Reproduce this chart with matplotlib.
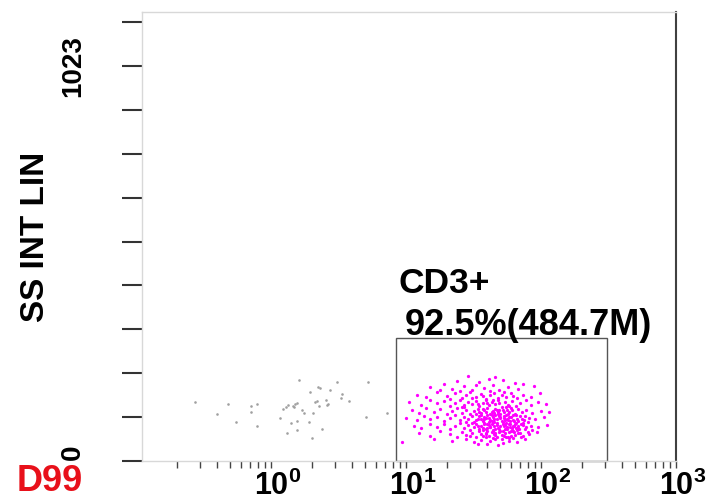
import numpy as np
import matplotlib
matplotlib.use('Agg')
import matplotlib.pyplot as plt
from matplotlib.patches import Rectangle
from matplotlib.transforms import ScaledTranslation

plt.rcParams['font.family'] = ['Liberation Sans', 'DejaVu Sans']
plt.rcParams['mathtext.fontset'] = 'custom'
plt.rcParams['mathtext.rm'] = 'Liberation Sans:bold'
plt.rcParams['mathtext.bf'] = 'Liberation Sans:bold'
plt.rcParams['mathtext.default'] = 'bf'

# ungated events (CD3 fluorescence, side scatter)
neg_events = [
    (0.274, 152), (0.400, 121), (0.483, 147), (0.551, 102), (0.708, 142),
    (0.708, 128), (0.792, 147), (0.792, 92), (1.166, 111), (1.221, 134),
    (1.291, 139), (1.343, 146), (1.406, 98), (1.448, 142), (1.514, 148),
    (1.566, 151), (1.621, 210), (1.550, 104), (1.307, 73), (1.550, 80),
    (1.687, 132), (1.754, 124), (1.944, 178), (1.922, 100), (2.036, 125),
    (2.002, 60), (2.117, 152), (2.180, 155), (2.240, 192), (2.280, 142),
    (2.400, 82), (2.550, 158), (2.630, 148), (2.740, 184), (3.070, 205),
    (3.280, 162), (3.370, 173), (3.800, 155), (5.050, 115), (5.260, 205),
    (7.190, 124), (2.300, 190), (1.480, 140), (2.600, 146),
]

# CD3+ gated events
cd3_events = [
    (29, 221), (41, 212), (24, 206), (35, 204), (52, 209), (19, 199), (64, 201), (46, 218),
    (15, 192), (22, 186), (27, 195), (31, 183), (38, 190), (44, 197), (49, 184), (57, 192),
    (68, 187), (88, 195), (33, 196), (25, 181), (42, 182), (73, 199), (18, 184),
    (12, 172), (14, 165), (17, 178), (20, 169), (23, 175), (26, 163), (28, 171), (30, 178),
    (33, 166), (36, 174), (39, 161), (42, 170), (45, 177), (48, 164), (51, 172), (55, 167),
    (60, 175), (66, 162), (74, 170), (85, 166), (98, 176), (21, 161), (31, 163), (37, 168),
    (53, 179), (62, 168),
    (10.5, 152), (13, 146), (15, 157), (17, 149), (19, 155), (21, 143), (23, 151), (25, 158),
    (27, 145), (29, 153), (31, 147), (33, 156), (35, 142), (37, 150), (39, 157), (41, 144),
    (43, 152), (46, 147), (48, 158), (51, 141), (54, 153), (57, 146), (61, 155), (65, 143),
    (70, 150), (77, 157), (84, 145), (95, 152), (108, 148), (26, 141), (34, 148), (44, 159),
    (58, 142), (40, 150), (49, 149),
    (11, 131), (12.5, 124), (14, 137), (16, 128), (18, 134), (20, 122), (22, 130), (24, 138),
    (26, 125), (28, 133), (30, 121), (32, 129), (34, 136), (36, 124), (38, 131), (40, 138),
    (42, 123), (44, 130), (46, 135), (48, 127), (50, 121), (52, 133), (55, 139), (58, 126),
    (61, 132), (64, 122), (68, 136), (72, 128), (78, 133), (86, 124), (100, 130), (115, 126),
    (27, 139), (33, 122), (39, 126), (45, 125), (53, 128), (60, 137), (37, 134), (43, 128),
    (49, 133), (56, 131),
    (10, 112), (12, 106), (13.5, 117), (15, 109), (17, 114), (19, 103), (21, 111), (23, 118),
    (25, 105), (27, 113), (29, 108), (31, 116), (32, 102), (34, 110), (35, 117), (37, 104),
    (39, 112), (40, 119), (42, 107), (44, 114), (45, 101), (47, 109), (49, 116), (51, 104),
    (53, 111), (55, 118), (57, 106), (60, 113), (63, 103), (66, 110), (70, 116), (75, 105),
    (82, 112), (90, 108), (105, 114), (28, 101), (36, 108), (43, 103), (46, 118), (50, 111),
    (54, 107), (58, 115), (62, 119), (38, 115), (41, 102),
    (11.5, 92), (13, 86), (15, 97), (17, 89), (19, 95), (21, 83), (23, 91), (25, 98),
    (27, 85), (29, 93), (30, 81), (32, 88), (33, 96), (35, 84), (36, 91), (38, 99),
    (39, 82), (41, 94), (42, 87), (44, 80), (45, 92), (47, 98), (48, 85), (50, 90),
    (52, 96), (54, 83), (56, 89), (58, 95), (61, 81), (63, 92), (67, 86), (71, 97),
    (76, 84), (84, 91), (95, 88), (110, 93), (31, 99), (37, 86), (43, 97), (46, 83),
    (53, 92), (59, 88), (65, 99),
    (12.5, 72), (15, 66), (18, 77), (21, 69), (24, 63), (26, 75), (28, 68), (31, 73),
    (33, 62), (35, 78), (37, 66), (39, 71), (41, 64), (43, 76), (45, 69), (47, 61),
    (49, 74), (51, 67), (54, 72), (57, 63), (60, 77), (64, 68), (68, 73), (74, 65),
    (82, 70), (93, 75), (30, 64), (40, 79), (46, 73), (55, 61), (62, 79), (36, 70), (52, 78),
    (9.4, 50), (16, 56), (22, 52), (28, 58), (32, 48), (36, 55), (42, 51), (46, 57),
    (52, 46), (58, 53), (66, 49), (76, 56), (40, 43), (48, 41), (34, 44), (62, 59),
    (36, 118), (38, 108), (40, 97), (42, 88), (44, 78), (46, 68), (48, 123), (50, 113),
    (52, 102), (54, 93), (56, 84), (58, 74), (60, 65), (62, 106), (64, 96), (66, 80),
    (68, 92), (70, 72), (72, 110), (74, 99), (78, 88), (80, 76), (34, 90), (37, 81),
    (39, 73), (41, 112), (43, 120), (45, 108), (47, 93), (49, 82), (51, 58), (53, 66),
    (55, 98), (57, 121), (59, 104), (61, 86), (63, 75), (65, 118), (67, 104), (69, 83),
    (71, 62), (73, 93), (76, 117), (80, 101), (86, 80), (33, 107), (35, 126), (38, 95),
    (40, 86), (44, 100), (47, 132), (50, 77), (53, 117), (56, 108), (59, 96), (62, 90),
    (65, 85), (58, 60), (44, 60), (39, 62),
]

# gate (x from/to, y from/to)
gate_x = [8.4, 308]
gate_y = [0, 318]
gate_name = 'CD3+'
gate_stat = '92.5%(484.7M)'
sample_id = 'D99'
y_label = 'SS INT LIN'
y_max = 1023

neg = np.array(neg_events)
pos = np.array(cd3_events)

fig = plt.figure(figsize=(7.1, 5.01), dpi=100)
ax = fig.add_axes([0.2, 0.0798, 0.7521, 0.8962])

ax.scatter(neg[:, 0], neg[:, 1], s=3.5, color='#a0a0a0', linewidths=0)
ax.scatter(pos[:, 0], pos[:, 1], s=5.5, color='#ff00ff', linewidths=0)

ax.add_patch(Rectangle((gate_x[0], gate_y[0]), gate_x[1] - gate_x[0], gate_y[1] - gate_y[0],
                       fill=False, edgecolor='#555555', lw=1, clip_on=False))

ax.text(8.73, 435, gate_name, fontsize=25.5, fontweight='bold', va='baseline', ha='left')
ax.text(9.83, 326, gate_stat, fontsize=26, fontweight='bold', va='baseline', ha='left')

ax.set_xscale('log')
ax.set_xlim(0.1107, 1000)
ax.set_ylim(0, 1163)

ax.set_xticks([1, 10, 100, 1000])
ax.set_xticklabels([r'$10^{0}$', r'$10^{1}$', r'$10^{2}$', r'$10^{3}$'], fontsize=22)
ax.xaxis.set_minor_locator(matplotlib.ticker.LogLocator(base=10, subs=np.arange(2, 10)))
ax.xaxis.set_minor_formatter(matplotlib.ticker.NullFormatter())
ax.tick_params(axis='x', which='both', direction='out', length=5, width=1, color='#444444', pad=2)
for lab in ax.get_xticklabels():
    lab.set_transform(lab.get_transform() + ScaledTranslation(5 / 72, 0, fig.dpi_scale_trans))

yt = [i * y_max / 9 for i in range(11)]
ax.set_yticks(yt)
ax.set_yticklabels(['0'] + [''] * 8 + [str(y_max), ''], fontsize=20, fontweight='bold',
                   rotation=90, va='center')
ax.tick_params(axis='y', which='both', direction='out', length=14.5, width=1.5,
               color='#333333', pad=26)
ylabs = ax.get_yticklabels()
ylabs[0].set_transform(ylabs[0].get_transform() + ScaledTranslation(0, 6 / 72, fig.dpi_scale_trans))

ax.set_ylabel(y_label, fontsize=24, fontweight='bold', labelpad=6)

for side in ['left', 'top', 'bottom']:
    ax.spines[side].set_color('#d8d8d8')
    ax.spines[side].set_linewidth(1)
ax.spines['right'].set_color('#404040')
ax.spines['right'].set_linewidth(1.5)

fig.text(17 / 710, 2 / 501, sample_id, color='#e8101a', fontsize=26, fontweight='bold',
         ha='left', va='bottom')

plt.savefig('out.png', dpi=100)
